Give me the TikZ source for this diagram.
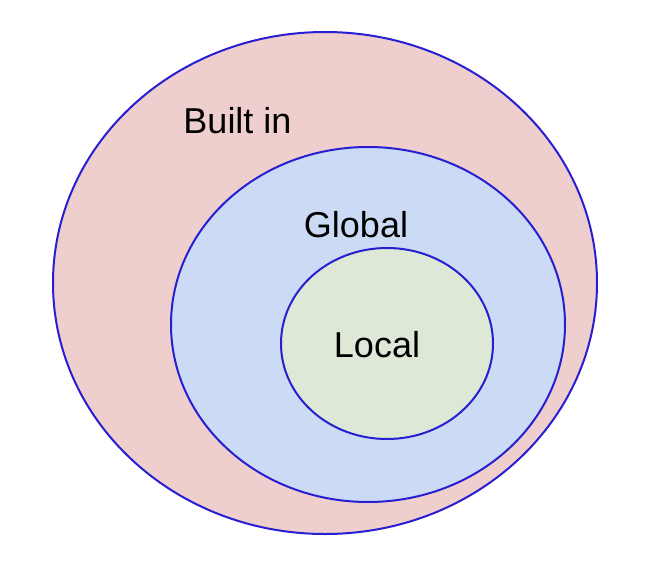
\documentclass[tikz,border=0pt]{standalone}
\usepackage{fontspec}
\setmainfont{Liberation Sans}
\definecolor{builtinfill}{RGB}{239,206,206}
\definecolor{globalfill}{RGB}{204,219,245}
\definecolor{localfill}{RGB}{221,232,214}
\definecolor{scopeline}{RGB}{40,30,210}
\begin{document}
\begin{tikzpicture}[x=1pt,y=-1pt]
\tikzstyle{every node}+=[inner sep=0pt]
\tikzstyle{scopering}=[draw=scopeline,line width=2pt]
\tikzstyle{scopelabel}=[anchor=base,font=\fontsize{36}{40}\selectfont]
\useasboundingbox (0,0) rectangle (670,576);
\filldraw [scopering,fill=builtinfill] (325,283) ellipse [x radius=272,y radius=251];
\filldraw [scopering,fill=globalfill] (368,324.5) ellipse [x radius=197,y radius=177.5];
\filldraw [scopering,fill=localfill] (387,343.5) ellipse [x radius=106,y radius=95.5];
\node [scopelabel] (builtin) at (237.5,133) {Built in};
\node [scopelabel] (global) at (356,237) {Global};
\node [scopelabel] (local) at (377,357) {Local};
\end{tikzpicture}
\end{document}
